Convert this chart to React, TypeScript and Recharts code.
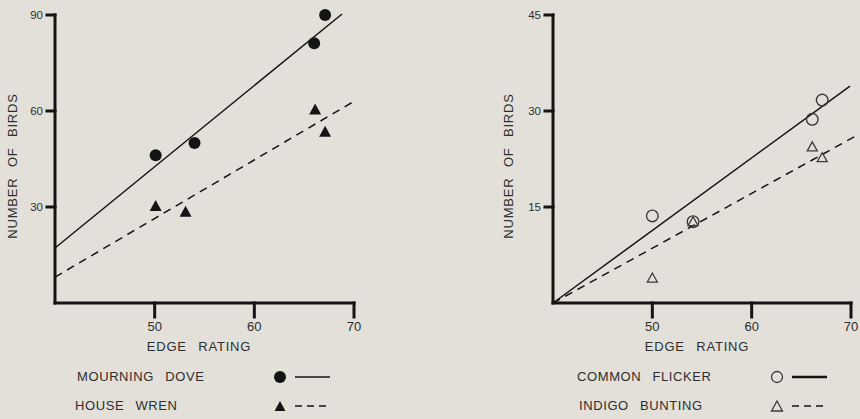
import React from 'react';
import { ScatterChart, Scatter, XAxis, YAxis, ReferenceLine } from 'recharts';

// edge rating (x) and number of birds (y)
const doveEdge = [50.1, 54.0, 66.0, 67.1];
const doveBirds = [46.2, 50.0, 81.2, 90.0];
const wrenEdge = [50.1, 53.1, 66.1, 67.1];
const wrenBirds = [30.3, 28.5, 60.5, 53.5];

const flickerEdge = [50.0, 54.1, 66.1, 67.1];
const flickerBirds = [13.6, 12.7, 28.7, 31.7];
const buntingEdge = [50.0, 54.1, 66.1, 67.1];
const buntingBirds = [3.9, 12.7, 24.4, 22.7];

// fitted lines: [start, end] as [edge, birds]
const doveFit = [[40, 17.2], [68.8, 90.3]];
const wrenFit = [[40, 8.1], [70.2, 63.4]];
const flickerFit = [[40, 0], [69.9, 33.9]];
const buntingFit = [[40, 0], [70.6, 26.2]];

const xTicks = [50, 60, 70];
const leftYTicks = [30, 60, 90];
const rightYTicks = [15, 30, 45];

const BG = '#e2e0d9';
const INK = '#141414';
const TEXT = '#2e2e2e';
const FONT = '"Liberation Sans", Arial, sans-serif';

const toPoints = (xs: number[], ys: number[]) => xs.map((x, i) => ({ x, y: ys[i] }));
const toSegment = (f: number[][]) => f.map(([x, y]) => ({ x, y }));

const FilledCircle = (p: any) => <circle cx={p.cx} cy={p.cy} r={6} fill={INK} />;
const FilledTriangle = (p: any) => (
  <polygon points={`${p.cx},${p.cy - 6} ${p.cx - 6},${p.cy + 5} ${p.cx + 6},${p.cy + 5}`} fill={INK} />
);
const OpenCircle = (p: any) => <circle cx={p.cx} cy={p.cy} r={5.8} fill="none" stroke="#3a3a3a" strokeWidth={1.4} />;
const OpenTriangle = (p: any) => (
  <polygon points={`${p.cx},${p.cy - 5} ${p.cx - 5},${p.cy + 4} ${p.cx + 5},${p.cy + 4}`} fill="none" stroke="#3a3a3a" strokeWidth={1.3} />
);

const text = (style: React.CSSProperties): React.CSSProperties => ({
  position: 'absolute',
  fontFamily: FONT,
  color: TEXT,
  whiteSpace: 'nowrap',
  ...style,
});

const axisLine = { stroke: INK, strokeWidth: 3, strokeLinecap: 'square' as const };

function Panel(props: {
  left: number; width: number; yWidth: number; right: number; yMax: number; yTicks: number[];
  a: { x: number; y: number }[]; b: { x: number; y: number }[];
  fitA: number[][]; fitB: number[][];
  shapeA: any; shapeB: any;
}) {
  return (
    <div style={{ position: 'absolute', left: props.left, top: 0 }}>
      <ScatterChart width={props.width} height={340} margin={{ top: 15, right: props.right, bottom: 0, left: 0 }}>
        <XAxis
          type="number" dataKey="x" domain={[40, 70]} ticks={xTicks} height={37}
          stroke={INK} strokeWidth={3}
          axisLine={axisLine} tickLine={axisLine} tickSize={14} tickMargin={5}
          tick={{ fill: TEXT, fontSize: 13, fontFamily: FONT, stroke: 'none' }}
        />
        <YAxis
          type="number" dataKey="y" domain={[0, props.yMax]} ticks={props.yTicks} width={props.yWidth}
          stroke={INK} strokeWidth={3}
          axisLine={axisLine} tickLine={axisLine} tickSize={8} tickMargin={4}
          tick={{ fill: TEXT, fontSize: 11.5, fontFamily: FONT, stroke: 'none' }}
        />
        <ReferenceLine segment={toSegment(props.fitA)} stroke={INK} strokeWidth={1.5} ifOverflow="visible" />
        <ReferenceLine segment={toSegment(props.fitB)} stroke={INK} strokeWidth={1.5} strokeDasharray="8 6" ifOverflow="visible" />
        <Scatter data={props.a} shape={props.shapeA} isAnimationActive={false} />
        <Scatter data={props.b} shape={props.shapeB} isAnimationActive={false} />
      </ScatterChart>
    </div>
  );
}

const yLabel = (cx: number): React.CSSProperties =>
  text({
    left: cx - 80, top: 158, width: 160, textAlign: 'center', fontSize: 13,
    letterSpacing: 0.8, wordSpacing: 6, transform: 'rotate(-90deg)', lineHeight: '16px',
  });

const legendText = (left: number, top: number): React.CSSProperties =>
  text({ left, top, fontSize: 13, letterSpacing: 0.6, wordSpacing: 7, lineHeight: '16px' });

function LegendKey(props: { left: number; top: number; marker: 'dot' | 'tri' | 'ring' | 'otri'; dashed: boolean; thick?: boolean }) {
  const cx = 7, cy = 8;
  let m: React.ReactNode = null;
  if (props.marker === 'dot') m = <circle cx={cx} cy={cy} r={6} fill={INK} />;
  if (props.marker === 'tri') m = <polygon points={`${cx},${cy - 5} ${cx - 5.5},${cy + 5} ${cx + 5.5},${cy + 5}`} fill={INK} />;
  if (props.marker === 'ring') m = <circle cx={cx} cy={cy} r={5.5} fill="none" stroke="#3a3a3a" strokeWidth={1.3} />;
  if (props.marker === 'otri') m = <polygon points={`${cx},${cy - 5} ${cx - 5.5},${cy + 5} ${cx + 5.5},${cy + 5}`} fill="none" stroke="#3a3a3a" strokeWidth={1.3} />;
  return (
    <svg width={60} height={16} style={{ position: 'absolute', left: props.left, top: props.top }}>
      {m}
      <line x1={22} x2={57} y1={cy} y2={cy} stroke={INK} strokeWidth={props.thick ? 2.6 : 1.6} strokeDasharray={props.dashed ? '7 5' : undefined} />
    </svg>
  );
}

export default function App() {
  return (
    <div style={{ position: 'fixed', left: 0, top: 0, width: 860, height: 419, background: BG, overflow: 'hidden' }}>
      <Panel
        left={0} width={380} yWidth={55} right={26} yMax={90} yTicks={leftYTicks}
        a={toPoints(doveEdge, doveBirds)} b={toPoints(wrenEdge, wrenBirds)}
        fitA={doveFit} fitB={wrenFit} shapeA={FilledCircle} shapeB={FilledTriangle}
      />
      <Panel
        left={470} width={390} yWidth={83} right={9} yMax={45} yTicks={rightYTicks}
        a={toPoints(flickerEdge, flickerBirds)} b={toPoints(buntingEdge, buntingBirds)}
        fitA={flickerFit} fitB={buntingFit} shapeA={OpenCircle} shapeB={OpenTriangle}
      />

      <div style={yLabel(13)}>NUMBER OF BIRDS</div>
      <div style={yLabel(509)}>NUMBER OF BIRDS</div>

      <div style={text({ left: 99, top: 339, width: 200, textAlign: 'center', fontSize: 13, letterSpacing: 0.8, wordSpacing: 7, lineHeight: '16px' })}>EDGE RATING</div>
      <div style={text({ left: 597, top: 339, width: 200, textAlign: 'center', fontSize: 13, letterSpacing: 0.8, wordSpacing: 7, lineHeight: '16px' })}>EDGE RATING</div>

      <div style={legendText(77, 369)}>MOURNING DOVE</div>
      <LegendKey left={273} top={369} marker="dot" dashed={false} />
      <div style={legendText(75, 398)}>HOUSE WREN</div>
      <LegendKey left={273} top={398} marker="tri" dashed />

      <div style={legendText(577, 369)}>COMMON FLICKER</div>
      <LegendKey left={770} top={369} marker="ring" dashed={false} thick />
      <div style={legendText(579, 398)}>INDIGO BUNTING</div>
      <LegendKey left={770} top={398} marker="otri" dashed />
    </div>
  );
}
